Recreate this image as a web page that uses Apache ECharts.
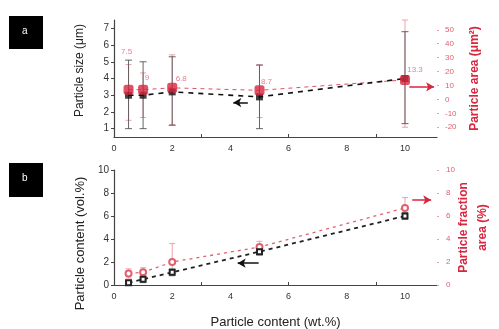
<!DOCTYPE html>
<html><head><meta charset="utf-8">
<script src="https://cdn.jsdelivr.net/npm/echarts@6/dist/echarts.min.js"></script>
<style>html,body{margin:0;padding:0;background:#fff}#c{width:499px;height:329px}</style>
</head><body><div id="c"></div>
<script>
// ---- data ----
var wt = [0.5, 1, 2, 5, 10];
// panel a
var sizeMean = [3.0, 3.0, 3.2, 2.9, 4.0];
var sizeLo = [1.0, 1.0, 1.2, 1.0, 1.3];
var sizeHi = [5.1, 5.0, 5.3, 4.8, 6.8];
var areaMean = [7.0, 7.0, 8.3, 6.5, 14.0];
var areaLo = [-15, -13, -18, -13, -20];
var areaHi = [25, 19, 32, 25, 57];
var areaLabels = ['7.5', '9', '6.8', '8.7', '13.3'];
var sizeTicks = [1, 2, 3, 4, 5, 6, 7];
var areaTicks = [-20, -10, 0, 10, 20, 30, 40, 50];
// panel b
var volMean = [0.2, 0.5, 1.1, 2.9, 6.0];
var volLo = [0.0, 0.2, 0.8, 2.6, 5.7];
var volHi = [0.4, 0.7, 1.4, 3.2, 6.3];
var fracMean = [1.0, 1.1, 2.0, 3.3, 6.7];
var fracLo = [0.6, 0.8, 1.2, 3.0, 6.0];
var fracHi = [1.4, 1.5, 3.6, 3.8, 7.6];
var xTicksMinor = [3, 6, 9];
// annotation arrows [x0, y0, x1, y1] in data units
var arrowSizeA = [4.6, 2.56, 4.1, 2.56];
var arrowAreaA = [10.15, 9.0, 11.0, 9.0];
var arrowVolB = [4.97, 1.9, 4.25, 1.9];
var arrowFracB = [10.25, 7.4, 10.9, 7.4];

// ---- styles ----
var RED = '#d8263e', RED_LIGHT = '#f0a0aa', RED_TXT = '#e06070', DARK = '#222';
var labelOffsets = [[-2, -38], [4, -12], [9, -9], [7, -9], [10, -10]];
var FONT = 'Liberation Sans, Arial, sans-serif';

function pairs(xs, ys) { return xs.map(function (x, i) { return [x, ys[i]]; }); }
function triples(xs, lo, hi) { return xs.map(function (x, i) { return [x, lo[i], hi[i]]; }); }
function errRender(color, capW, width) {
  return function (params, api) {
    var x = api.value(0), lo = api.value(1), hi = api.value(2);
    var a = api.coord([x, lo]), b = api.coord([x, hi]);
    var st = { stroke: color, lineWidth: width };
    return { type: 'group', children: [
      { type: 'line', shape: { x1: a[0], y1: a[1], x2: b[0], y2: b[1] }, style: st },
      { type: 'line', shape: { x1: a[0] - capW, y1: a[1], x2: a[0] + capW, y2: a[1] }, style: st },
      { type: 'line', shape: { x1: b[0] - capW, y1: b[1], x2: b[0] + capW, y2: b[1] }, style: st }
    ] };
  };
}
function arrowML(arr, color) {
  return {
    silent: true, symbol: ['none', 'arrow'], symbolSize: [7, 8], label: { show: false },
    lineStyle: { color: color, type: 'solid', width: 1.5 },
    data: [[{ coord: [arr[0], arr[1]] }, { coord: [arr[2], arr[3]] }]]
  };
}

var chart = echarts.init(document.getElementById('c'), null, { renderer: 'canvas' });
var xAxisBase = function (idx) {
  return {
    gridIndex: idx, type: 'value', min: 0, max: 11.1, interval: 2,
    axisLine: { onZero: false, lineStyle: { color: '#444', width: 1.2 } },
    axisTick: { show: true, inside: true, length: 3, customValues: xTicksMinor, lineStyle: { color: '#444' } },
    axisLabel: { color: '#333', fontSize: 9, fontFamily: FONT, margin: 7, showMaxLabel: false },
    splitLine: { show: false }
  };
};
var xb = xAxisBase(1);
xb.name = 'Particle content (wt.%)';
xb.nameLocation = 'middle';
xb.nameGap = 31;
xb.nameTextStyle = { color: DARK, fontSize: 13, fontFamily: FONT };

var option = {
  backgroundColor: '#fff',
  animation: false,
  textStyle: { fontFamily: FONT },
  grid: [
    { left: 114, top: 20, width: 323, height: 117, outerBoundsMode: 'none', containLabel: false },
    { left: 114, top: 170, width: 323, height: 115, outerBoundsMode: 'none', containLabel: false }
  ],
  xAxis: [xAxisBase(0), xb],
  yAxis: [
    { gridIndex: 0, type: 'value', min: 0.5, max: 7.5, position: 'left',
      name: 'Particle size (μm)', nameLocation: 'middle', nameGap: 28, nameRotate: 90,
      nameTextStyle: { color: DARK, fontSize: 12, fontFamily: FONT, padding: [0, 0, 0, 16] },
      axisLine: { show: true, onZero: false, lineStyle: { color: '#444', width: 1.2 } },
      axisTick: { show: true, length: 3, customValues: sizeTicks, lineStyle: { color: '#444' } },
      axisLabel: { customValues: sizeTicks, color: '#333', fontSize: 10, margin: 5 },
      splitLine: { show: false } },
    { gridIndex: 0, type: 'value', min: -27, max: 57, position: 'right',
      name: 'Particle area (μm²)', nameLocation: 'middle', nameGap: 32, nameRotate: 90,
      nameTextStyle: { color: RED, fontSize: 12, fontWeight: 'bold', fontFamily: FONT },
      axisLine: { show: false, onZero: false },
      axisTick: { show: true, length: 2, customValues: areaTicks, lineStyle: { color: RED_LIGHT } },
      axisLabel: { customValues: areaTicks, color: RED_TXT, fontSize: 8, margin: 8 },
      splitLine: { show: false } },
    { gridIndex: 1, type: 'value', min: 0, max: 10, interval: 2, position: 'left',
      name: 'Particle content (vol.%)', nameLocation: 'middle', nameGap: 26, nameRotate: 90,
      nameTextStyle: { color: DARK, fontSize: 13, fontFamily: FONT, padding: [0, 32, 0, 0] },
      axisLine: { show: true, onZero: false, lineStyle: { color: '#444', width: 1.2 } },
      axisTick: { show: true, length: 3, lineStyle: { color: '#444' } },
      axisLabel: { color: '#333', fontSize: 10, margin: 5 },
      splitLine: { show: false } },
    { gridIndex: 1, type: 'value', min: 0, max: 10, interval: 2, position: 'right',
      name: 'Particle fraction\narea (%)', nameLocation: 'middle', nameGap: 17, nameRotate: 90,
      nameMoveOverlap: false,
      nameTextStyle: { color: RED, fontSize: 12, fontWeight: 'bold', fontFamily: FONT, lineHeight: 19 },
      axisLine: { show: false, onZero: false },
      axisTick: { show: true, length: 2, lineStyle: { color: RED_LIGHT } },
      axisLabel: { color: RED_TXT, fontSize: 8, margin: 9 },
      splitLine: { show: false } }
  ],
  series: [
    // ---- panel a ----
    { type: 'custom', xAxisIndex: 0, yAxisIndex: 1, renderItem: errRender(RED_LIGHT, 3, 1),
      data: triples(wt, areaLo, areaHi), encode: { x: 0, y: [1, 2] }, z: 1, clip: false },
    { type: 'custom', xAxisIndex: 0, yAxisIndex: 0, renderItem: errRender('#555', 3.5, 0.9),
      data: triples(wt, sizeLo, sizeHi), encode: { x: 0, y: [1, 2] }, z: 2 },
    { type: 'line', xAxisIndex: 0, yAxisIndex: 1, data: pairs(wt, areaMean), symbol: 'none',
      lineStyle: { color: RED, width: 1, type: [4, 4], opacity: 0.8 }, z: 3,
      markLine: arrowML(arrowAreaA, RED) },
    { type: 'line', xAxisIndex: 0, yAxisIndex: 0, data: pairs(wt, sizeMean), symbol: 'none',
      lineStyle: { color: '#111', width: 1.6, type: [5, 5] }, z: 3,
      markLine: arrowML(arrowSizeA, '#111') },
    { type: 'scatter', xAxisIndex: 0, yAxisIndex: 0, data: pairs(wt, sizeMean), symbol: 'rect',
      symbolSize: 7, itemStyle: { color: '#111' }, z: 4 },
    { type: 'scatter', xAxisIndex: 0, yAxisIndex: 1, symbol: 'roundRect', symbolSize: 10,
      itemStyle: { color: RED }, z: 5,
      data: wt.map(function (x, i) {
        return { value: [x, areaMean[i]], label: { show: true, formatter: areaLabels[i], offset: labelOffsets[i],
          position: 'inside', color: RED_TXT, fontSize: 8 } };
      }) },
    // ---- panel b ----
    { type: 'custom', xAxisIndex: 1, yAxisIndex: 3, renderItem: errRender(RED_LIGHT, 3, 1),
      data: triples(wt, fracLo, fracHi), encode: { x: 0, y: [1, 2] }, z: 1 },
    { type: 'custom', xAxisIndex: 1, yAxisIndex: 2, renderItem: errRender('#888', 3, 1),
      data: triples(wt, volLo, volHi), encode: { x: 0, y: [1, 2] }, z: 1 },
    { type: 'line', xAxisIndex: 1, yAxisIndex: 3, data: pairs(wt, fracMean), symbol: 'emptyCircle',
      symbolSize: 6, itemStyle: { color: RED_TXT }, lineStyle: { color: RED_TXT, width: 1.3, type: [3, 4] }, z: 3,
      markLine: arrowML(arrowFracB, RED) },
    { type: 'line', xAxisIndex: 1, yAxisIndex: 2, data: pairs(wt, volMean), symbol: 'emptyRect',
      symbolSize: 5, itemStyle: { color: '#222' }, lineStyle: { color: '#222', width: 1.8, type: [4, 4] }, z: 4,
      markLine: arrowML(arrowVolB, '#111') }
  ],
  graphic: [
    { type: 'rect', left: 9, top: 16, shape: { width: 34, height: 33 }, style: { fill: '#000' } },
    { type: 'text', left: 22, top: 26, style: { text: 'a', fill: '#fff', fontSize: 10, fontFamily: FONT } },
    { type: 'rect', left: 9, top: 163, shape: { width: 34, height: 34 }, style: { fill: '#000' } },
    { type: 'text', left: 22, top: 173, style: { text: 'b', fill: '#fff', fontSize: 10, fontFamily: FONT } }
  ]
};
chart.setOption(option);
</script></body></html>
